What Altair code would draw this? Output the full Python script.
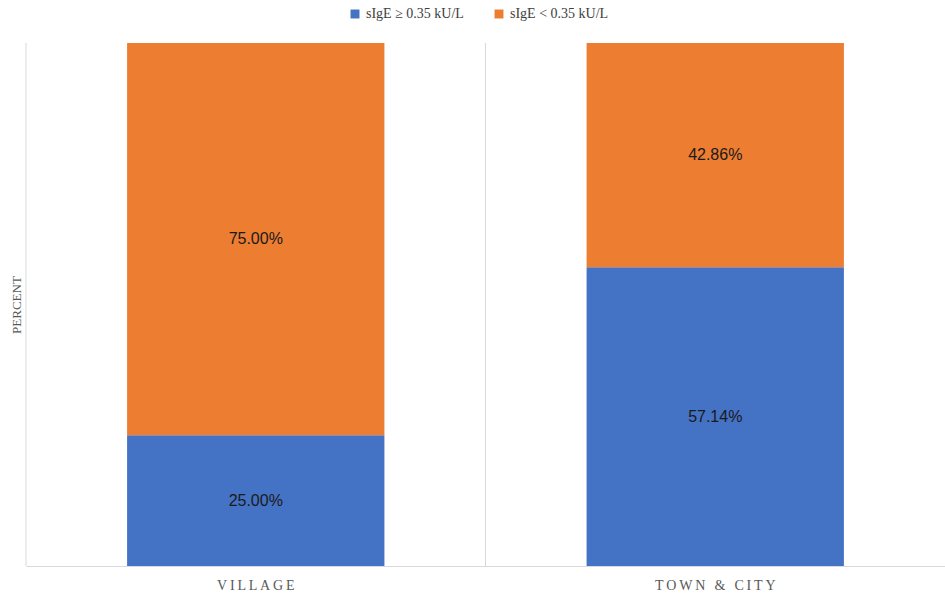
import altair as alt
import pandas as pd

categories = ["VILLAGE", "TOWN & CITY"]
series = ["sIgE ≥ 0.35 kU/L", "sIgE < 0.35 kU/L"]
positive = [25.00, 57.14]
negative = [75.00, 42.86]
colors = ["#4472C4", "#ED7D31"]

rows = []
for i, c in enumerate(categories):
    rows.append({"cat": c, "series": series[0], "value": positive[i], "ord": 0})
    rows.append({"cat": c, "series": series[1], "value": negative[i], "ord": 1})
df = pd.DataFrame(rows)
cat_df = pd.DataFrame({"cat": categories})

serif = "Liberation Serif"

x = alt.X("cat:N", sort=categories, title=None,
          scale=alt.Scale(paddingInner=0, paddingOuter=0),
          axis=alt.Axis(labelAngle=0, ticks=False, domainColor="#d9d9d9",
                        grid=False,
                        labelFont=serif, labelFontSize=14, labelColor="#595959",
                        labelExpr="join(split(datum.label, ''), '\u2009')",
                        labelPadding=12))

grid = alt.Chart(cat_df).mark_rule(color="#d9d9d9", strokeWidth=1).encode(
    x=alt.X("cat:N", sort=categories, bandPosition=0, axis=None),
    y=alt.value(0),
    y2=alt.value(523),
)

base = alt.Chart(df)

bars = base.mark_bar(width={"band": 0.56}).encode(
    x=x,
    y=alt.Y("value:Q", stack="zero", scale=alt.Scale(domain=[0, 100]),
            title="PERCENT",
            axis=alt.Axis(labels=False, ticks=False, domain=False, grid=False,
                          titleFont=serif, titleFontSize=13, titleFontWeight="normal",
                          titleColor="#595959", titlePadding=3)),
    color=alt.Color("series:N", sort=series,
                    scale=alt.Scale(domain=series, range=colors),
                    legend=alt.Legend(orient="none", legendX=322, legendY=-36,
                                      direction="horizontal", title=None,
                                      symbolType="square",
                                      labelFont=serif, labelFontSize=14,
                                      labelColor="#404040", symbolSize=80,
                                      columnPadding=28)),
    order=alt.Order("ord:Q"),
)

labels = base.transform_stack(
    stack="value", groupby=["cat"], as_=["y0", "y1"],
    sort=[alt.SortField("ord")]
).transform_calculate(
    mid="(datum.y0 + datum.y1) / 2",
    lbl="format(datum.value, '.2f') + '%'"
).mark_text(font="Liberation Sans", fontSize=16, color="#1a1a1a").encode(
    x=alt.X("cat:N", sort=categories, axis=None),
    y=alt.Y("mid:Q", axis=None),
    text="lbl:N",
)

chart = alt.layer(grid, bars, labels).resolve_axis(
    x="independent", y="independent"
).properties(
    width=919, height=523,
    background="white",
    autosize=alt.AutoSizeParams(type="none"),
    padding={"left": 26, "top": 43, "right": 0, "bottom": 30},
).configure_view(stroke=None)

chart.save("out.html", embed_options={"renderer": "svg", "actions": False})
